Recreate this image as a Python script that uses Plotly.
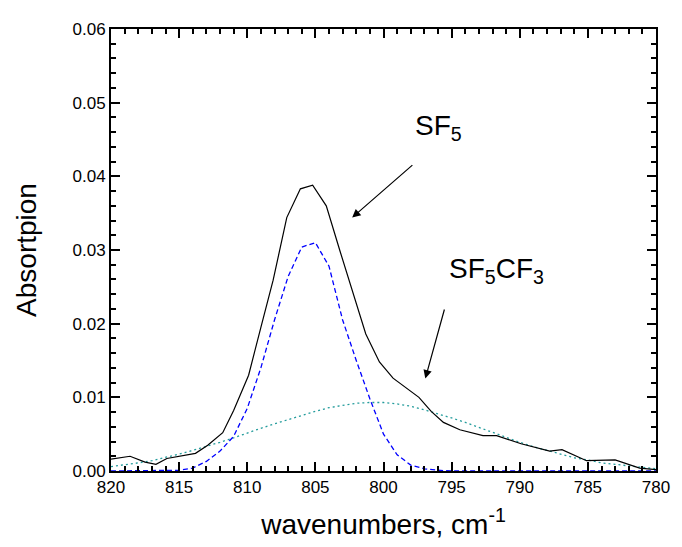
import plotly.graph_objects as go

# Measured spectrum (black)
meas_x = [820, 818.6, 817.5, 816.7, 815.9, 813.8, 812.9, 811.8, 811.0, 809.9, 809.0, 808.1,
          807.1, 806.1, 805.2, 804.2, 803.2, 802.2, 801.3, 800.3, 799.3, 797.4, 796.5, 795.6,
          794.4, 792.7, 791.7, 789.9, 787.8, 786.9, 785.1, 783.0, 781.2, 780.0]
meas_y = [0.0016, 0.0020, 0.0012, 0.0009, 0.0017, 0.0024, 0.0035, 0.0052, 0.0082, 0.0130,
          0.0195, 0.0259, 0.0344, 0.0383, 0.0388, 0.0360, 0.0299, 0.0241, 0.0186, 0.0148,
          0.0126, 0.0100, 0.0081, 0.0066, 0.0056, 0.0048, 0.0048, 0.0037, 0.0027, 0.0029,
          0.0014, 0.0015, 0.0004, 0.0002]

# SF5 component (blue dashed)
sf5_x = [820, 816, 815, 814, 813, 812, 811, 810, 809, 808, 807, 806, 805, 804, 803, 802,
         801, 800, 799, 798, 797, 796, 795, 780]
sf5_y = [0.0, 0.0, 0.0001, 0.0004, 0.0013, 0.0027, 0.0047, 0.0085, 0.0140, 0.0205, 0.0264,
         0.0304, 0.0310, 0.0278, 0.0205, 0.0150, 0.0098, 0.0050, 0.0022, 0.0008, 0.0003,
         0.0001, 0.0, 0.0]

# SF5CF3 component (teal dotted)
cf3_x = [820, 819, 818, 817, 816, 815, 814, 813, 812, 811, 810, 809, 808, 807, 806, 805,
         804, 803, 802, 801, 800, 799, 798, 797, 796, 795, 794, 793, 792, 791, 790, 789,
         788, 787, 786, 785, 784, 783, 782, 781, 780]
cf3_y = [0.0006, 0.0008, 0.0011, 0.0014, 0.0018, 0.0023, 0.0028, 0.0033, 0.0039, 0.0045,
         0.0052, 0.0058, 0.0064, 0.0070, 0.0076, 0.0081, 0.0086, 0.0089, 0.0092, 0.0093,
         0.0093, 0.0091, 0.0088, 0.0083, 0.0078, 0.0072, 0.0066, 0.0059, 0.0052, 0.0045,
         0.0039, 0.0033, 0.0028, 0.0023, 0.0018, 0.0015, 0.0011, 0.0009, 0.0007, 0.0005,
         0.0003]

FONT = "Liberation Sans, Arial, sans-serif"

fig = go.Figure()
fig.add_trace(go.Scatter(x=cf3_x, y=cf3_y, mode="lines",
                         line=dict(color="#249c9c", width=1.3, dash="2px,3px"), showlegend=False))
fig.add_trace(go.Scatter(x=sf5_x, y=sf5_y, mode="lines",
                         line=dict(color="#0000ff", width=1.3, dash="5px,3px"), showlegend=False))
fig.add_trace(go.Scatter(x=meas_x, y=meas_y, mode="lines",
                         line=dict(color="black", width=1.2), showlegend=False))

axis_common = dict(showline=True, linecolor="black", linewidth=2, mirror="ticks",
                   ticks="inside", ticklen=9, tickwidth=2, tickcolor="black",
                   showgrid=False, zeroline=False,
                   tickfont=dict(family=FONT, size=17, color="black"))

fig.update_xaxes(range=[820, 780], dtick=5, tick0=780,
                 minor=dict(dtick=1, ticks="inside", ticklen=5, tickwidth=1.5, tickcolor="black"),
                 title=dict(text="wavenumbers, cm<sup>-1</sup>",
                            font=dict(family=FONT, size=28, color="black"), standoff=18),
                 **axis_common)
fig.update_yaxes(range=[0, 0.06], dtick=0.01, tickformat=".2f",
                 minor=dict(dtick=0.002, ticks="inside", ticklen=5, tickwidth=1.5, tickcolor="black"),
                 title=dict(text="Absortpion", font=dict(family=FONT, size=28, color="black"),
                            standoff=28),
                 **axis_common)

fig.add_annotation(x=802.3, y=0.0344, ax=797.77, ay=0.0417, xref="x", yref="y",
                   axref="x", ayref="y", text="", showarrow=True, arrowhead=2,
                   arrowsize=1.4, arrowwidth=1.2, arrowcolor="black")
fig.add_annotation(x=796.93, y=0.01257, ax=795.5, ay=0.02213, xref="x", yref="y",
                   axref="x", ayref="y", text="", showarrow=True, arrowhead=2,
                   arrowsize=1.4, arrowwidth=1.2, arrowcolor="black")
fig.add_annotation(x=797.84, y=0.0466, xref="x", yref="y", text="SF<sub>5</sub>",
                   showarrow=False, xanchor="left", yanchor="middle",
                   font=dict(family=FONT, size=28, color="black"))
fig.add_annotation(x=795.32, y=0.0272, xref="x", yref="y", text="SF<sub>5</sub>CF<sub>3</sub>",
                   showarrow=False, xanchor="left", yanchor="middle",
                   font=dict(family=FONT, size=28, color="black"))

# Page body has an 8px default margin; size/margins compensate so the plot area
# lands at the reference position inside the 682x547 window.
fig.update_layout(width=674, height=539, margin=dict(l=103, r=15, t=13, b=76),
                  plot_bgcolor="white", paper_bgcolor="white",
                  font=dict(family=FONT, color="black"))

fig.write_html("out.html")
